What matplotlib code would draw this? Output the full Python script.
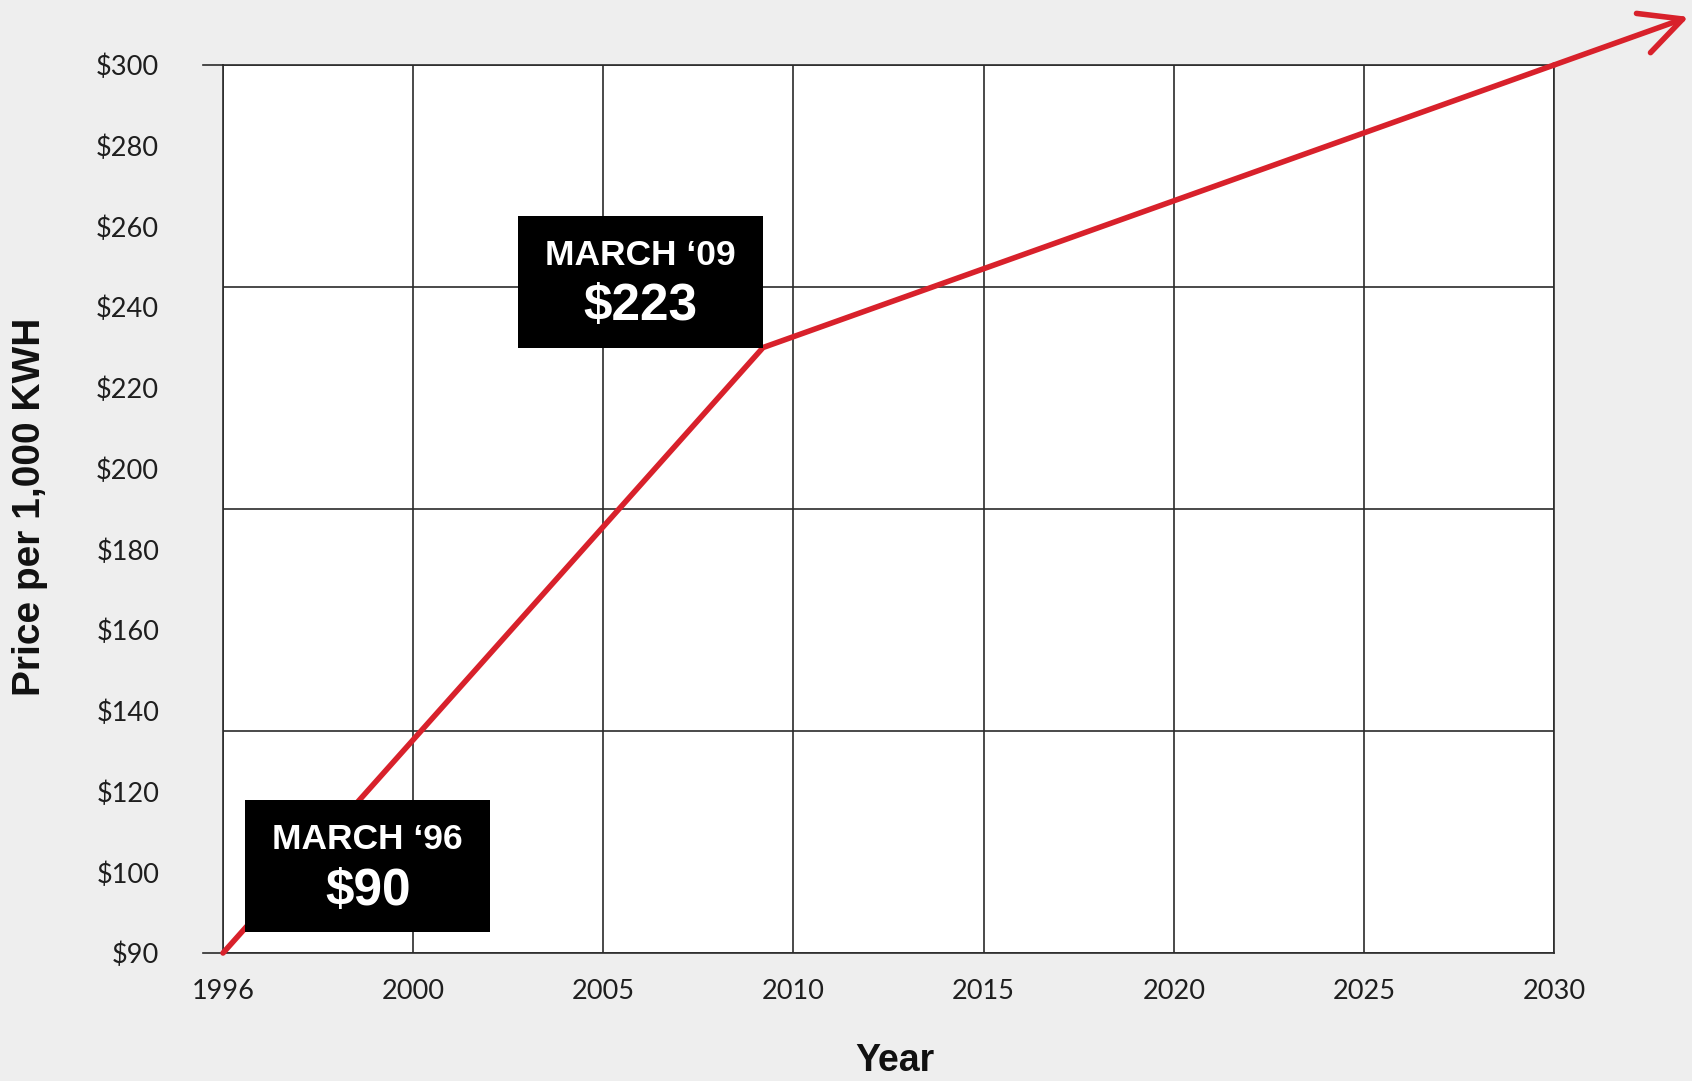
import matplotlib.pyplot as plt
import matplotlib.transforms as mtransforms
from matplotlib.patches import Rectangle
import numpy as np

# axis ticks (evenly spaced labels, not a linear scale)
year_ticks = [1996, 2000, 2005, 2010, 2015, 2020, 2025, 2030]
price_ticks = [90, 100, 120, 140, 160, 180, 200, 220, 240, 260, 280, 300]

# series: price per 1,000 kWh
years = [1996, 2009.2, 2030]
prices = [90, 230, 300]

# callouts
callout_titles = ['MARCH \u201896', 'MARCH \u201809']
callout_values = ['$90', '$223']

RED = '#d8212b'
GRID = '#2b2b2b'
BG = '#eeeeee'


def to_x(y):
    return np.interp(y, year_ticks, np.arange(len(year_ticks)))


def to_y(p):
    return np.interp(p, price_ticks, np.arange(len(price_ticks)))


xs = to_x(years)
ys = to_y(prices)

fig = plt.figure(figsize=(16.92, 10.81), dpi=100)
fig.patch.set_facecolor(BG)
ax = fig.add_axes([0.1318, 0.1184, 0.7867, 0.8215])
ax.set_facecolor('white')
ax.set_xlim(0, len(year_ticks) - 1)
ax.set_ylim(0, len(price_ticks) - 1)

# grid: vertical at every year tick, horizontal in four equal bands
for xv in range(len(year_ticks)):
    ax.axvline(xv, color=GRID, lw=1.2, zorder=1)
for yv in np.linspace(0, len(price_ticks) - 1, 5):
    ax.axhline(yv, color=GRID, lw=1.2, zorder=1)
for s in ax.spines.values():
    s.set_color(GRID)
    s.set_linewidth(1.2)

# small stubs left of the top and bottom lines
trans = mtransforms.blended_transform_factory(ax.transAxes, ax.transData)
for yv in [0, len(price_ticks) - 1]:
    ax.plot([-0.015, 0], [yv, yv], color=GRID, lw=1.2, transform=trans, clip_on=False)

ax.set_xticks(range(len(year_ticks)))
ax.set_xticklabels([str(y) for y in year_ticks])
ax.set_yticks(range(len(price_ticks)))
ax.set_yticklabels([f'${p}' for p in price_ticks])
ax.tick_params(length=0, labelsize=19.5, colors='#1e1e1e')
ax.tick_params(axis='y', pad=46)
ax.tick_params(axis='x', pad=19)
for lab in ax.get_xticklabels() + ax.get_yticklabels():
    lab.set_fontfamily('Lato')

# price line + arrow past 2030
ax.plot(xs, ys, color=RED, lw=4, solid_capstyle='round', solid_joinstyle='round',
        zorder=3, clip_on=False)
tip = (xs[-1] + 0.17 * (xs[-1] - xs[-2]), ys[-1] + 0.17 * (ys[-1] - ys[-2]))
ax.annotate('', xy=tip, xytext=(xs[-1], ys[-1]), annotation_clip=False,
            arrowprops=dict(arrowstyle='->,head_length=1.5,head_width=0.75',
                            color=RED, lw=4, shrinkA=0, shrinkB=0,
                            mutation_scale=20, capstyle='round', joinstyle='round'),
            zorder=3)

# callout boxes (width, height in axis units)
bw, bh = 1.29, 1.635
box_origins = [(xs[0] + 0.116, ys[0] + 0.26), (xs[1] - bw, ys[1])]
for (bx, by), title, val in zip(box_origins, callout_titles, callout_values):
    ax.add_patch(Rectangle((bx, by), bw, bh, facecolor='black', edgecolor='none',
                           zorder=5, clip_on=False))
    ax.text(bx + bw / 2, by + bh * 0.70, title, color='white', fontsize=25.5,
            fontweight='bold', family='Liberation Sans', ha='center', va='center', zorder=6)
    ax.text(bx + bw / 2, by + bh * 0.31, val, color='white', fontsize=37,
            fontweight='bold', family='Liberation Sans', ha='center', va='center', zorder=6)

fig.text(30 / 1692, 1 - 507 / 1081, 'Price per 1,000 KWH', rotation=90, fontsize=28,
         fontweight='bold', family='Liberation Sans', ha='center', va='center', color='#111111')
fig.text(895 / 1692, 1 - 1061 / 1081, 'Year', fontsize=27, fontweight='bold',
         family='Liberation Sans', ha='center', va='center', color='#111111')

fig.savefig('out.png', dpi=100, facecolor=BG)
